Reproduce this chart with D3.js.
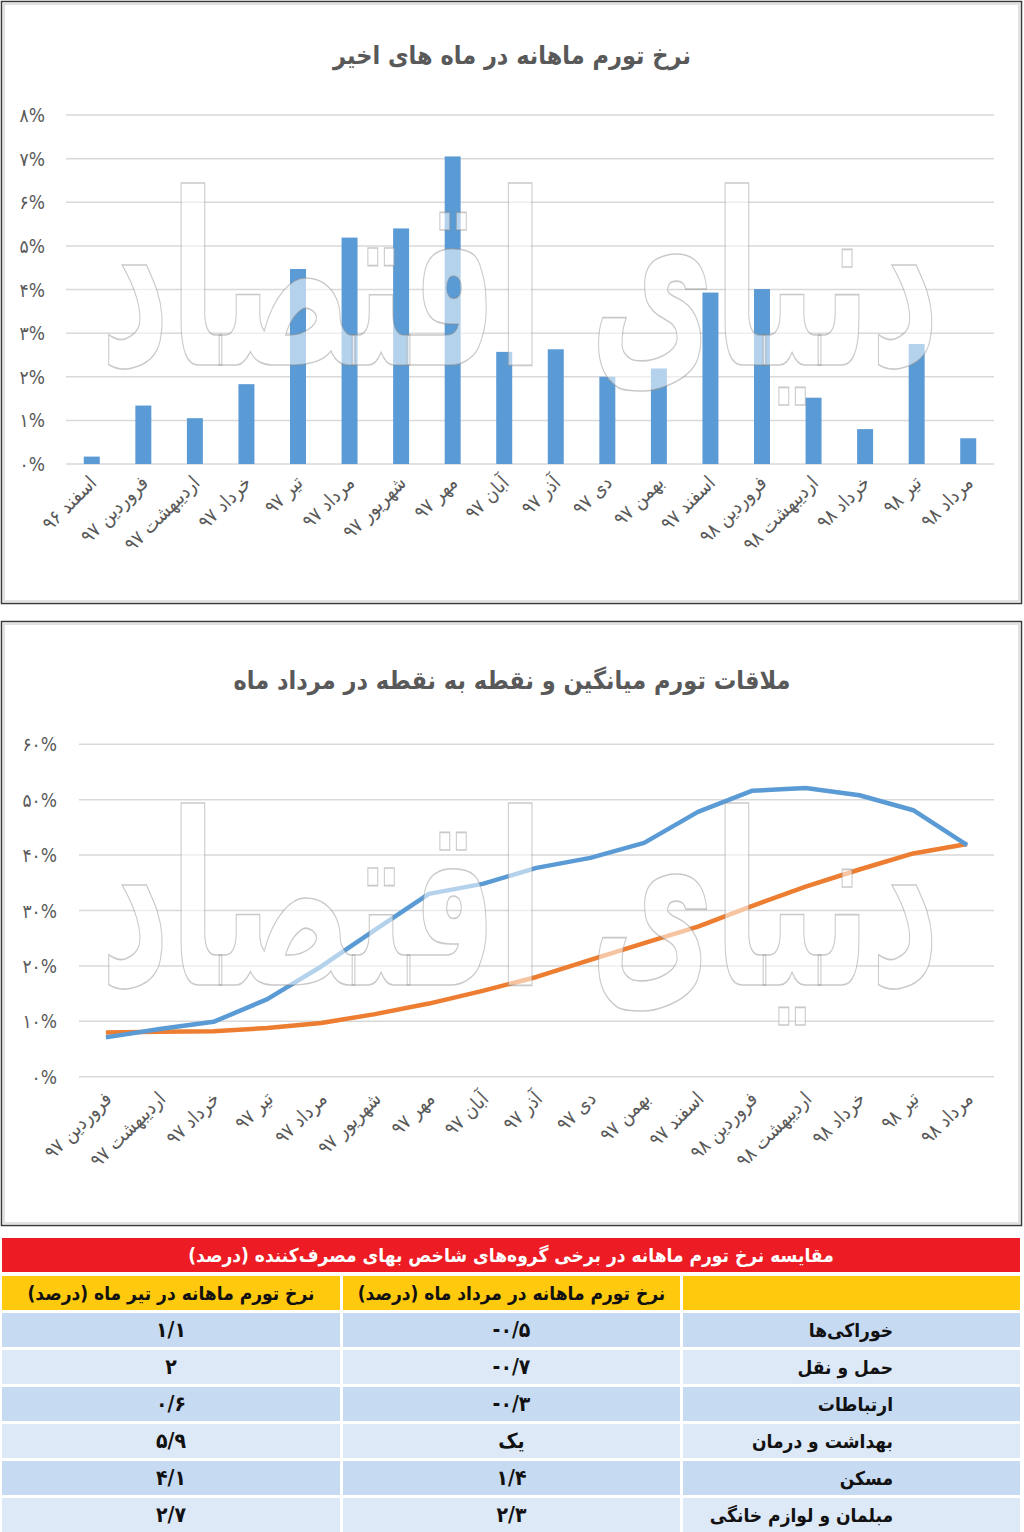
<!DOCTYPE html>
<html>
<head>
<meta charset="utf-8">
<script src="https://cdn.jsdelivr.net/npm/d3@7"></script>
<style>
  body { margin: 0; background: #fff; }
  svg { display: block; font-family: "DejaVu Sans Condensed", "DejaVu Sans", sans-serif; }
</style>
</head>
<body>
<svg id="page" width="1024" height="1532"></svg>
<script>
// --- data ---
const months1 = ["اسفند ۹۶", "فروردین ۹۷", "اردیبهشت ۹۷", "خرداد ۹۷", "تیر ۹۷", "مرداد ۹۷",
  "شهریور ۹۷", "مهر ۹۷", "آبان ۹۷", "آذر ۹۷", "دی ۹۷", "بهمن ۹۷", "اسفند ۹۷",
  "فروردین ۹۸", "اردیبهشت ۹۸", "خرداد ۹۸", "تیر ۹۸", "مرداد ۹۸"];
const monthlyRate = [0.17, 1.34, 1.05, 1.83, 4.47, 5.19, 5.4, 7.05, 2.57, 2.63, 2.0, 2.19, 3.93, 4.01, 1.52, 0.8, 2.75, 0.59];
const ticks1 = [0, 1, 2, 3, 4, 5, 6, 7, 8];

const months2 = months1.slice(1);
const avgRate = [7.1, 8.6, 9.9, 14.0, 19.9, 26.5, 33.0, 34.8, 37.7, 39.5, 42.2, 47.8, 51.6, 52.1, 50.8, 48.1, 41.8];
const pointRate = [8.0, 8.1, 8.2, 8.8, 9.7, 11.3, 13.2, 15.5, 18.0, 21.1, 24.1, 27.1, 30.8, 34.3, 37.4, 40.3, 42.0];
const ticks2 = [0, 10, 20, 30, 40, 50, 60];

const tableTitle = "مقایسه نرخ تورم ماهانه در برخی گروه‌های شاخص بهای مصرف‌کننده (درصد)";
const tableHeads = ["", "نرخ تورم ماهانه در مرداد ماه (درصد)", "نرخ تورم ماهانه در تیر ماه (درصد)"];
const groups = ["خوراکی‌ها", "حمل و نقل", "ارتباطات", "بهداشت و درمان", "مسکن", "مبلمان و لوازم خانگی"];
const mordadVals = ["-۰/۵", "-۰/۷", "-۰/۳", "یک", "۱/۴", "۲/۳"];
const tirVals = ["۱/۱", "۲", "۰/۶", "۵/۹", "۴/۱", "۲/۷"];

const fa = s => String(s).replace(/\d/g, d => "۰۱۲۳۴۵۶۷۸۹"[d]);

const svg = d3.select("#page");
const gray = "#595959";

function frame(y0, h) {
  svg.append("rect").attr("x", 1.5).attr("y", y0 + 0.5).attr("width", 1020).attr("height", h)
    .attr("fill", "#fff").attr("stroke", "#3a3a3a").attr("stroke-width", 1.5);
  svg.append("rect").attr("x", 4).attr("y", y0 + 3).attr("width", 1015).attr("height", h - 5)
    .attr("fill", "none").attr("stroke", "#d9d9d9").attr("stroke-width", 1.5);
}

// faint "دنیای اقتصاد" watermark over the plots
function watermark(cx, cy, size) {
  svg.append("text")
    .attr("transform", `translate(${cx},${cy}) scale(1,1.6)`)
    .attr("text-anchor", "middle")
    .attr("font-size", size).attr("font-weight", "bold")
    .attr("fill", "#fff").attr("fill-opacity", 0.55)
    .attr("stroke", "#888").attr("stroke-opacity", 0.45).attr("stroke-width", 1)
    .text("دنیای اقتصاد");
}

// ---------- chart 1: bars ----------
frame(1, 602);
svg.append("text").attr("x", 512).attr("y", 64).attr("text-anchor", "middle")
  .attr("font-size", 25).attr("font-weight", "bold").attr("fill", gray)
  .text("نرخ تورم ماهانه در ماه های اخیر");

const x1 = d3.scaleBand().domain(months1).range([66, 994]).paddingInner(0.69).paddingOuter(0.345);
const y1 = d3.scaleLinear().domain([0, 8]).range([464, 115]);

svg.append("g").selectAll("line").data(ticks1).join("line")
  .attr("x1", 66).attr("x2", 994).attr("y1", d => y1(d)).attr("y2", d => y1(d))
  .attr("stroke", "#d9d9d9").attr("stroke-width", 1.5);
svg.append("g").selectAll("text").data(ticks1).join("text")
  .attr("x", 45).attr("y", d => y1(d) + 7).attr("text-anchor", "end")
  .attr("font-size", 19).attr("fill", gray).text(d => fa(d) + "%");

svg.append("g").selectAll("rect").data(monthlyRate).join("rect")
  .attr("x", (d, i) => x1(months1[i])).attr("width", x1.bandwidth())
  .attr("y", d => y1(d)).attr("height", d => y1(0) - y1(d))
  .attr("fill", "#5b9bd5");

svg.append("g").selectAll("text").data(months1).join("text")
  .attr("transform", d => `translate(${x1(d) + x1.bandwidth() / 2 + 6},${484}) rotate(-45)`)
  .attr("text-anchor", "end").attr("font-size", 19.5).attr("fill", gray).text(d => d);

watermark(520, 365, 150);

// ---------- chart 2: lines ----------
frame(621, 604);
svg.append("text").attr("x", 512).attr("y", 689).attr("text-anchor", "middle")
  .attr("font-size", 25).attr("font-weight", "bold").attr("fill", gray)
  .text("ملاقات تورم میانگین و نقطه به نقطه در مرداد ماه");

const x2 = d3.scalePoint().domain(months2).range([79, 994]).padding(0.5);
const y2 = d3.scaleLinear().domain([0, 60]).range([1076.7, 744.3]);

svg.append("g").selectAll("line").data(ticks2).join("line")
  .attr("x1", 79).attr("x2", 994).attr("y1", d => y2(d)).attr("y2", d => y2(d))
  .attr("stroke", "#d9d9d9").attr("stroke-width", 1.5);
svg.append("g").selectAll("text").data(ticks2).join("text")
  .attr("x", 57).attr("y", d => y2(d) + 7).attr("text-anchor", "end")
  .attr("font-size", 19).attr("fill", gray).text(d => fa(d) + "%");

const line2 = d3.line().x((d, i) => x2(months2[i])).y(d => y2(d));
svg.append("path").datum(pointRate).attr("d", line2).attr("fill", "none")
  .attr("stroke", "#ed7d31").attr("stroke-width", 4.5).attr("stroke-linejoin", "round");
svg.append("path").datum(avgRate).attr("d", line2).attr("fill", "none")
  .attr("stroke", "#5b9bd5").attr("stroke-width", 4.5).attr("stroke-linejoin", "round");

svg.append("g").selectAll("text").data(months2).join("text")
  .attr("transform", d => `translate(${x2(d) + 7},${1100}) rotate(-45)`)
  .attr("text-anchor", "end").attr("font-size", 19.5).attr("fill", gray).text(d => d);

watermark(520, 985, 150);

// ---------- table ----------
const colX = [683, 343, 2];
const colW = [337, 337, 338];
svg.append("rect").attr("x", 2).attr("y", 1238).attr("width", 1018).attr("height", 34).attr("fill", "#ed1c24");
svg.append("text").attr("x", 511).attr("y", 1262).attr("text-anchor", "middle").attr("direction", "rtl")
  .attr("font-size", 19).attr("font-weight", "bold").attr("fill", "#fff").text(tableTitle);

const head = svg.append("g");
head.selectAll("rect").data(tableHeads).join("rect")
  .attr("x", (d, i) => colX[i]).attr("y", 1276).attr("width", (d, i) => colW[i]).attr("height", 34)
  .attr("fill", "#ffc90e");
head.selectAll("text").data(tableHeads).join("text")
  .attr("x", (d, i) => colX[i] + colW[i] / 2).attr("y", 1300).attr("text-anchor", "middle")
  .attr("direction", "rtl").attr("font-size", 19).attr("font-weight", "bold").attr("fill", "#111")
  .text(d => d);

const rowY = i => 1313 + i * 37;
const rows = svg.append("g").selectAll("g").data(groups).join("g");
rows.each(function (d, i) {
  const g = d3.select(this);
  const fill = i % 2 === 0 ? "#c6daf1" : "#dde9f6";
  colX.forEach((cx, j) => {
    g.append("rect").attr("x", cx).attr("y", rowY(i)).attr("width", colW[j]).attr("height", 34).attr("fill", fill);
  });
  g.append("text").attr("x", 893).attr("y", rowY(i) + 24).attr("text-anchor", "end")
    .attr("font-size", 19).attr("font-weight", "bold").attr("fill", "#111").text(d);
  g.append("text").attr("x", colX[1] + colW[1] / 2).attr("y", rowY(i) + 24).attr("text-anchor", "middle")
    .attr("font-size", 21).attr("font-weight", "bold").attr("fill", "#111").text(mordadVals[i]);
  g.append("text").attr("x", colX[2] + colW[2] / 2).attr("y", rowY(i) + 24).attr("text-anchor", "middle")
    .attr("font-size", 21).attr("font-weight", "bold").attr("fill", "#111").text(tirVals[i]);
});
</script>
</body>
</html>
